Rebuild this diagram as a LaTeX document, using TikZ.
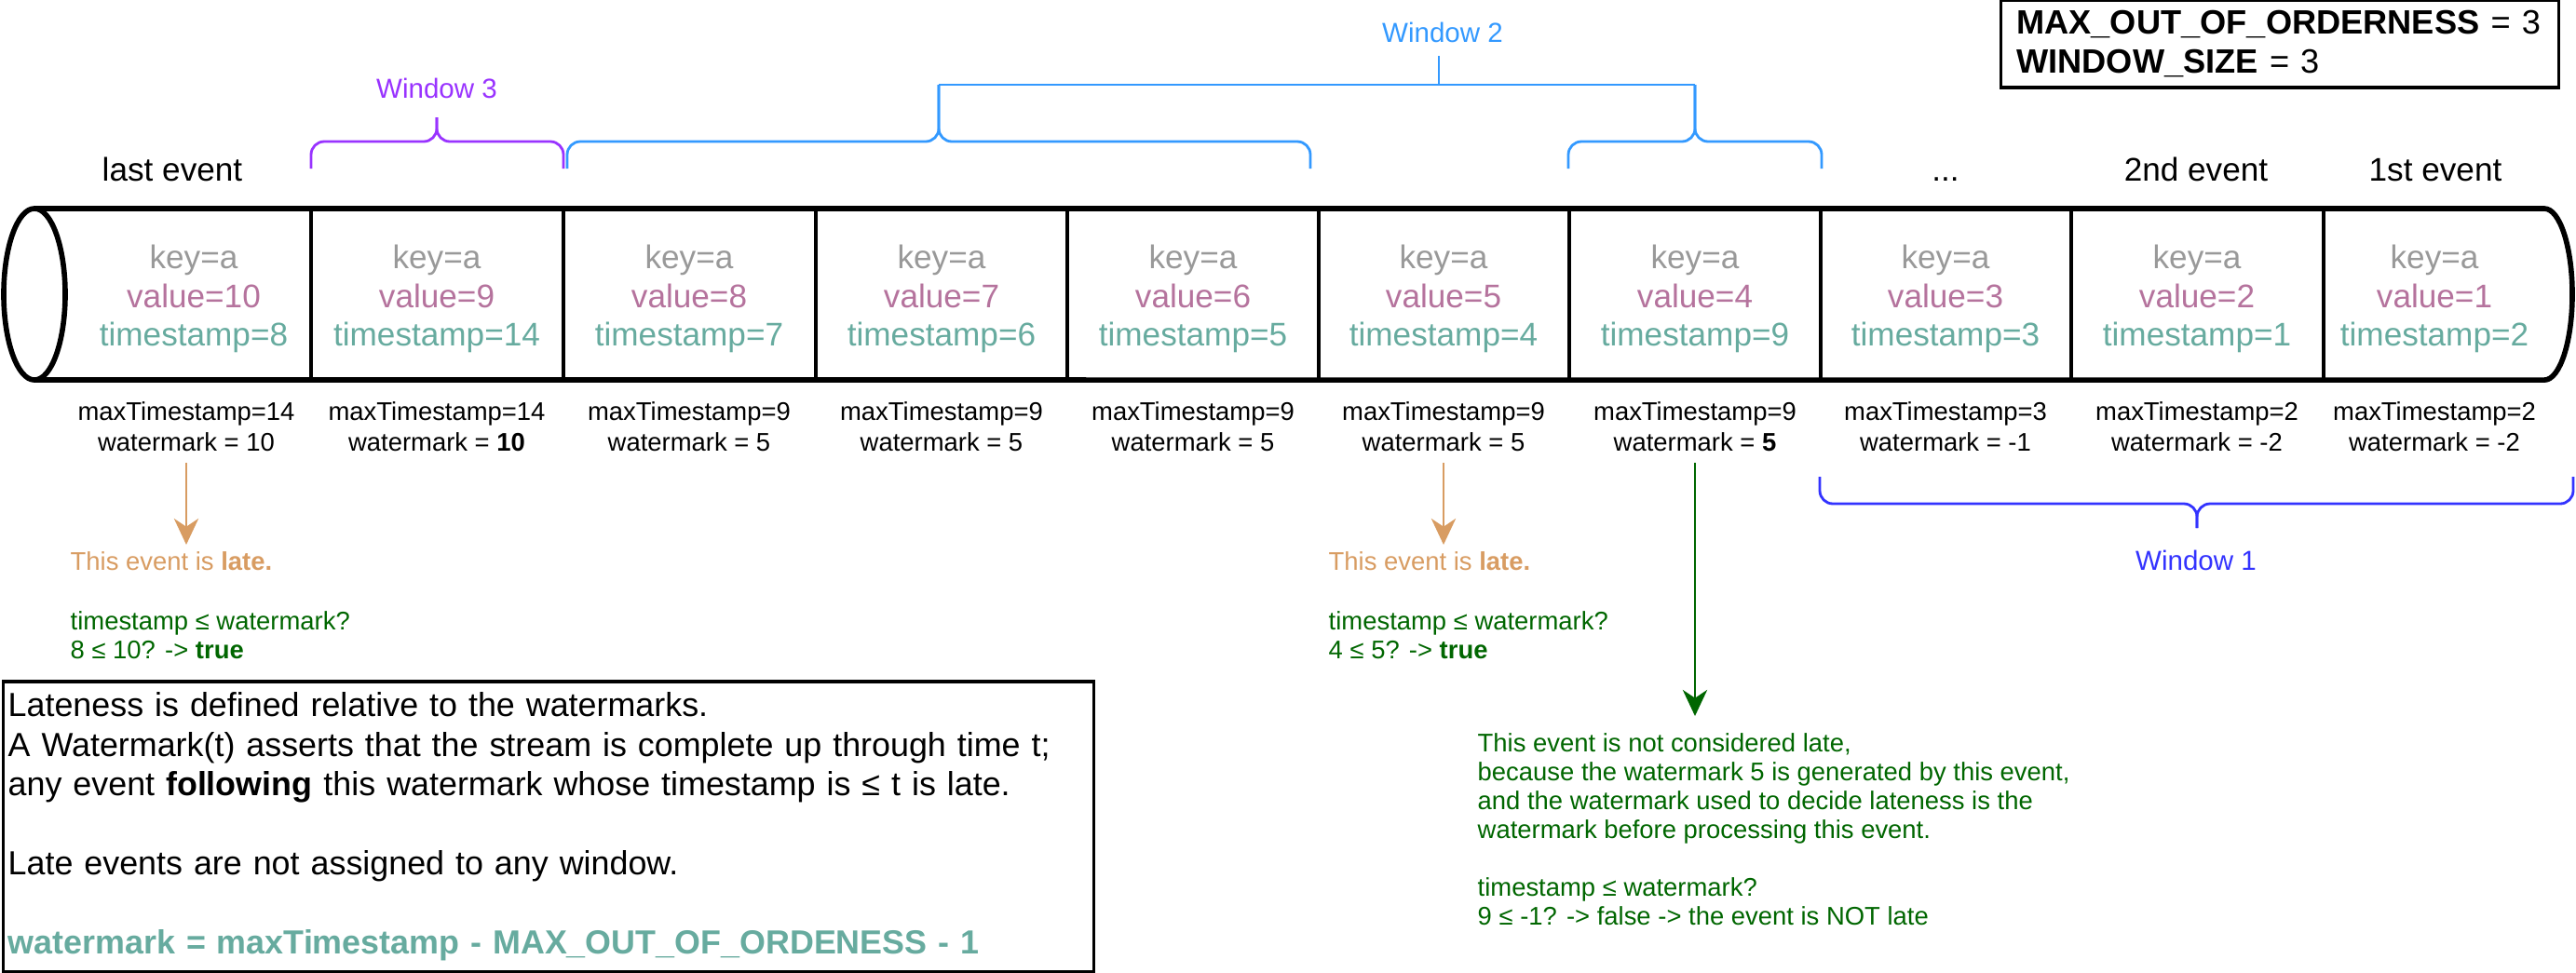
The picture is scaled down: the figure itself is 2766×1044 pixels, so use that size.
\documentclass[tikz,border=0pt]{standalone}
\usepackage{fontspec}
\setmainfont{Liberation Sans}
\usepackage{tikz}
\usetikzlibrary{arrows.meta}
\definecolor{keygray}{HTML}{999999}
\definecolor{valpink}{HTML}{B5739D}
\definecolor{tsteal}{HTML}{67AB9F}
\definecolor{w1blue}{HTML}{3333FF}
\definecolor{w2blue}{HTML}{3399FF}
\definecolor{w3purple}{HTML}{9933FF}
\definecolor{lateorange}{HTML}{D89C62}
\definecolor{okgreen}{HTML}{006600}

\begin{document}
\begin{tikzpicture}[x=0.01cm, y=-0.01cm, >={Stealth[length=8pt,width=7.5pt,inset=2.5pt]},
    pipe/.style={line width=1.6pt, line join=round},
    evtext/.style={align=center, font=\fontsize{10}{11.9}\selectfont},
    wmtext/.style={align=center, font=\fontsize{7.8}{9.4}\selectfont},
    evlabel/.style={anchor=base, font=\fontsize{10}{12}\selectfont},
    wlabel/.style={font=\fontsize{8.4}{10}\selectfont},
    wbrace/.style={line width=0.8pt, rounded corners=4pt},
    latenote/.style={anchor=west, inner sep=0pt, text=lateorange, font=\fontsize{7.8}{8.8}\selectfont},
    oknote/.style={anchor=west, align=left, inner sep=0pt, text=okgreen, font=\fontsize{7.8}{8.8}\selectfont}]
  \useasboundingbox (0,0) rectangle (2766,1044);

  % the stream
  \draw [pipe] (37,316) ellipse [x radius=0.33cm, y radius=0.92cm];
  \draw [pipe] (37,224) -- (2732,224) arc [start angle=90, end angle=-90, x radius=0.3cm, y radius=0.92cm] -- (37,408);
  \draw [line width=1pt] (334,224) -- (334,408) (605,224) -- (605,408) (876,224) -- (876,408)
    (1146,224) -- (1146,408) (1416,224) -- (1416,408) (1685,224) -- (1685,408)
    (1955,224) -- (1955,408) (2224,224) -- (2224,408) (2495,224) -- (2495,408);

  \node [evlabel] (last)   at (185,194)  {last event};
  \node [evlabel] (dots)   at (2089,194) {...};
  \node [evlabel] (second) at (2358,194) {2nd event};
  \node [evlabel] (first)  at (2615,194) {1st event};

  \node [evtext] (e1) at (208,321) {\textcolor{keygray}{key=a}\\\textcolor{valpink}{value=10}\\\textcolor{tsteal}{timestamp=8}};
  \node [wmtext] (m1) at (200,458) {maxTimestamp=14\\watermark = 10};

  \node [evtext] (e2) at (469,321) {\textcolor{keygray}{key=a}\\\textcolor{valpink}{value=9}\\\textcolor{tsteal}{timestamp=14}};
  \node [wmtext] (m2) at (469,458) {maxTimestamp=14\\watermark = \textbf{10}};

  \node [evtext] (e3) at (740,321) {\textcolor{keygray}{key=a}\\\textcolor{valpink}{value=8}\\\textcolor{tsteal}{timestamp=7}};
  \node [wmtext] (m3) at (740,458) {maxTimestamp=9\\watermark = 5};

  \node [evtext] (e4) at (1011,321) {\textcolor{keygray}{key=a}\\\textcolor{valpink}{value=7}\\\textcolor{tsteal}{timestamp=6}};
  \node [wmtext] (m4) at (1011,458) {maxTimestamp=9\\watermark = 5};

  \node [evtext] (e5) at (1281,321) {\textcolor{keygray}{key=a}\\\textcolor{valpink}{value=6}\\\textcolor{tsteal}{timestamp=5}};
  \node [wmtext] (m5) at (1281,458) {maxTimestamp=9\\watermark = 5};

  \node [evtext] (e6) at (1550,321) {\textcolor{keygray}{key=a}\\\textcolor{valpink}{value=5}\\\textcolor{tsteal}{timestamp=4}};
  \node [wmtext] (m6) at (1550,458) {maxTimestamp=9\\watermark = 5};

  \node [evtext] (e7) at (1820,321) {\textcolor{keygray}{key=a}\\\textcolor{valpink}{value=4}\\\textcolor{tsteal}{timestamp=9}};
  \node [wmtext] (m7) at (1820,458) {maxTimestamp=9\\watermark = \textbf{5}};

  \node [evtext] (e8) at (2089,321) {\textcolor{keygray}{key=a}\\\textcolor{valpink}{value=3}\\\textcolor{tsteal}{timestamp=3}};
  \node [wmtext] (m8) at (2089,458) {maxTimestamp=3\\watermark = -1};

  \node [evtext] (e9) at (2359,321) {\textcolor{keygray}{key=a}\\\textcolor{valpink}{value=2}\\\textcolor{tsteal}{timestamp=1}};
  \node [wmtext] (m9) at (2359,458) {maxTimestamp=2\\watermark = -2};

  \node [evtext] (e10) at (2614,321) {\textcolor{keygray}{key=a}\\\textcolor{valpink}{value=1}\\\textcolor{tsteal}{timestamp=2}};
  \node [wmtext] (m10) at (2614,458) {maxTimestamp=2\\watermark = -2};

  % windows
  \node [w3purple, wlabel] (win3) at (469,95) {Window 3};
  \draw [wbrace, w3purple] (334,181) -- (334,152) -- (469,152) -- (469,126);
  \draw [wbrace, w3purple] (605,181) -- (605,152) -- (469,152) -- (469,126);

  \node [w2blue, wlabel] (win2) at (1549,35) {Window 2};
  \draw [wbrace, w2blue] (609,181) -- (609,152) -- (1008,152) -- (1008,91);
  \draw [wbrace, w2blue] (1407,181) -- (1407,152) -- (1008,152) -- (1008,91);
  \draw [wbrace, w2blue] (1684,181) -- (1684,152) -- (1820,152) -- (1820,91);
  \draw [wbrace, w2blue] (1956,181) -- (1956,152) -- (1820,152) -- (1820,91);
  \draw [line width=0.8pt, w2blue] (1008,91) -- (1820,91) (1545,91) -- (1545,60);

  \draw [wbrace, w1blue] (1954,512) -- (1954,541) -- (2359,541) -- (2359,567);
  \draw [wbrace, w1blue] (2763,512) -- (2763,541) -- (2359,541) -- (2359,567);
  \node [w1blue, wlabel] (win1) at (2358,602) {Window 1};

  % late events
  \node [latenote] (late1) at (75,603) {This event is \textbf{late.}};
  \node [oknote] (check1) at (75,682) {timestamp ≤ watermark?\\8 ≤ 10? -> \textbf{true}};
  \coordinate (t1) at (200,585);
  \draw [->, lateorange, line width=0.6pt] (m1) -- (t1);

  \node [latenote] (late6) at (1426,603) {This event is \textbf{late.}};
  \node [oknote] (check6) at (1426,682) {timestamp ≤ watermark?\\4 ≤ 5? -> \textbf{true}};
  \coordinate (t6) at (1550,585);
  \draw [->, lateorange, line width=0.6pt] (m6) -- (t6);

  \node [oknote] (why7) at (1586,891) {This event is not considered late,\\because the watermark 5 is generated by this event,\\and the watermark used to decide lateness is the\\watermark before processing this event.\\[8.8pt]timestamp ≤ watermark?\\9 ≤ -1? -> false -> the event is NOT late};
  \coordinate (t7) at (1820,769);
  \draw [->, okgreen, line width=0.6pt] (m7) -- (t7);

  % boxes
  \node [draw, line width=1pt, minimum height=0.88cm, text width=5.65cm, inner xsep=0.17cm, align=left,
    font=\fontsize{10.3}{11.7}\selectfont] (consts) at (2448,47)
    {\textbf{MAX\_OUT\_OF\_ORDERNESS} = 3\\\textbf{WINDOW\_SIZE} = 3};
  \node [draw, line width=1pt, minimum height=3.01cm, text width=11.6cm, inner xsep=0.05cm, align=left,
    font=\fontsize{10.2}{12.1}\selectfont] (rules) at (589,888)
    {Lateness is defined relative to the watermarks.\\A Watermark(t) asserts that the stream is complete up through time t;\\any event \textbf{following} this watermark whose timestamp is ≤ t is late.\\[12.1pt]Late events are not assigned to any window.\\[12.1pt]\textcolor{tsteal}{\textbf{watermark = maxTimestamp - MAX\_OUT\_OF\_ORDENESS - 1}}};
\end{tikzpicture}
\end{document}
